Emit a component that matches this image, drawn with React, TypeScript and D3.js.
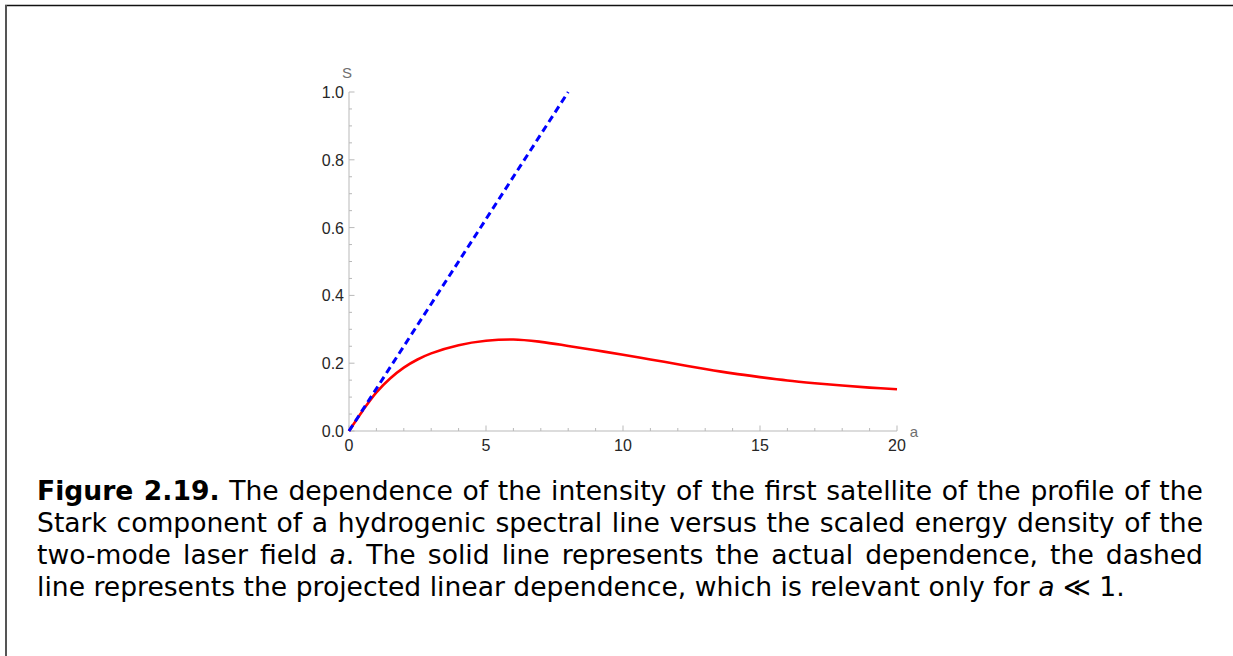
import React, { useEffect, useRef } from "react";
import * as d3 from "d3";

// Intensity of the first satellite S versus scaled energy density a
const aValues = [0, 0.5, 1, 1.5, 2, 2.5, 3, 4, 5, 6, 7, 8, 9, 10, 11, 12, 13, 14, 15, 16, 17, 18, 19, 20];
const sValues = [0, 0.06, 0.114, 0.155, 0.187, 0.211, 0.229, 0.253, 0.266, 0.27, 0.263, 0.251, 0.238, 0.225, 0.211, 0.197, 0.183, 0.17, 0.159, 0.149, 0.141, 0.134, 0.128, 0.123];

// Projected linear dependence S = a / 8, valid only for small a
const linearA = [0, 8];
const linearS = [0, 1];

const xMajorTicks = [0, 5, 10, 15, 20];
const yMajorTicks = [0, 0.2, 0.4, 0.6, 0.8, 1.0];

const W = 1233;
const H = 656;

const x = d3.scaleLinear().domain([0, 20]).range([349, 897]);
const y = d3.scaleLinear().domain([0, 1]).range([431, 92]);

const xMinor = d3.range(0, 21, 1).filter((v) => v % 5 !== 0);
const yMinor = d3.range(0, 1.0001, 0.05).filter((v) => Math.abs(Math.round(v * 5) - v * 5) > 1e-6);

const axisColor = "#b9b9b9";
const labelColor = "#262626";

const captionLines: { text: string; style?: "bold" | "italic" }[][] = [
  [
    { text: "Figure 2.19.", style: "bold" },
    { text: " The dependence of the intensity of the first satellite of the profile of the" },
  ],
  [{ text: "Stark component of a hydrogenic spectral line versus the scaled energy density of the" }],
  [
    { text: "two-mode laser field " },
    { text: "a", style: "italic" },
    { text: ". The solid line represents the actual dependence, the dashed" },
  ],
  [
    { text: "line represents the projected linear dependence, which is relevant only for " },
    { text: "a", style: "italic" },
    { text: " ≪ 1." },
  ],
];

const captionLeft = 37;
const captionRight = 1203;
const captionBaselines = [500, 532, 564, 596];

export default function App() {
  const captionRefs = useRef<(SVGTextElement | null)[]>([]);

  // Justify every caption line except the last one by spreading word gaps
  useEffect(() => {
    captionRefs.current.forEach((el, i) => {
      if (!el || i === captionLines.length - 1) return;
      el.style.wordSpacing = "0px";
      const natural = el.getComputedTextLength();
      const full = captionLines[i].map((s) => s.text).join("");
      const gaps = (full.match(/ /g) || []).length;
      if (gaps > 0) {
        el.style.wordSpacing = `${(captionRight - captionLeft - natural) / gaps}px`;
      }
    });
  }, []);

  const redLine = d3
    .line<number>()
    .x((_, i) => x(aValues[i]))
    .y((d) => y(d))
    .curve(d3.curveCatmullRom.alpha(0.5))(sValues) as string;

  const blueLine = d3
    .line<number>()
    .x((_, i) => x(linearA[i]))
    .y((d) => y(d))(linearS) as string;

  return (
    <svg
      width={W}
      height={H}
      style={{ position: "absolute", left: 0, top: 0, background: "#fff" }}
    >
      {/* frame */}
      <line x1={5} y1={5.5} x2={W} y2={5.5} stroke="#111" strokeWidth={1.5} />
      <line x1={6} y1={5} x2={6} y2={H} stroke="#555" strokeWidth={2} />

      {/* axes */}
      <line x1={x(0)} y1={y(0)} x2={x(20)} y2={y(0)} stroke={axisColor} strokeWidth={1} />
      <line x1={x(0)} y1={y(0)} x2={x(0)} y2={y(1)} stroke={axisColor} strokeWidth={1} />

      {xMinor.map((v) => (
        <line key={`xm${v}`} x1={x(v)} x2={x(v)} y1={y(0)} y2={y(0) - 3} stroke={axisColor} />
      ))}
      {xMajorTicks.map((v) => (
        <line key={`xM${v}`} x1={x(v)} x2={x(v)} y1={y(0)} y2={y(0) - 5.5} stroke={axisColor} />
      ))}
      {yMinor.map((v) => (
        <line key={`ym${v}`} x1={x(0)} x2={x(0) + 3} y1={y(v)} y2={y(v)} stroke={axisColor} />
      ))}
      {yMajorTicks.map((v) => (
        <line key={`yM${v}`} x1={x(0)} x2={x(0) + 5.5} y1={y(v)} y2={y(v)} stroke={axisColor} />
      ))}

      <g fontFamily="'Liberation Sans', Arial, sans-serif" fontSize={16} fill={labelColor}>
        {xMajorTicks.map((v) => (
          <text key={`xl${v}`} x={x(v)} y={y(0) + 20} textAnchor="middle">
            {d3.format("d")(v)}
          </text>
        ))}
        {yMajorTicks.map((v) => (
          <text key={`yl${v}`} x={x(0) - 5} y={y(v) + 6} textAnchor="end">
            {d3.format(".1f")(v)}
          </text>
        ))}
      </g>

      <g fontFamily="'Liberation Sans', Arial, sans-serif" fontSize={15} fill="#6f6f6f">
        <text x={x(0) - 2} y={y(1) - 14} textAnchor="middle">S</text>
        <text x={x(20) + 17} y={y(0) + 6} textAnchor="middle">a</text>
      </g>

      {/* curves */}
      <path d={redLine} fill="none" stroke="#ff0000" strokeWidth={2.6} />
      <path d={blueLine} fill="none" stroke="#0000ff" strokeWidth={3} strokeDasharray="7 4.5" />

      {/* caption */}
      <g fontFamily="'DejaVu Sans', sans-serif" fontSize={26.6} fill="#000">
        {captionLines.map((line, i) => (
          <text
            key={i}
            ref={(el) => {
              captionRefs.current[i] = el;
            }}
            x={captionLeft}
            y={captionBaselines[i]}
          >
            {line.map((seg, j) => (
              <tspan
                key={j}
                fontWeight={seg.style === "bold" ? "bold" : "normal"}
                fontStyle={seg.style === "italic" ? "italic" : "normal"}
              >
                {seg.text}
              </tspan>
            ))}
          </text>
        ))}
      </g>
    </svg>
  );
}
